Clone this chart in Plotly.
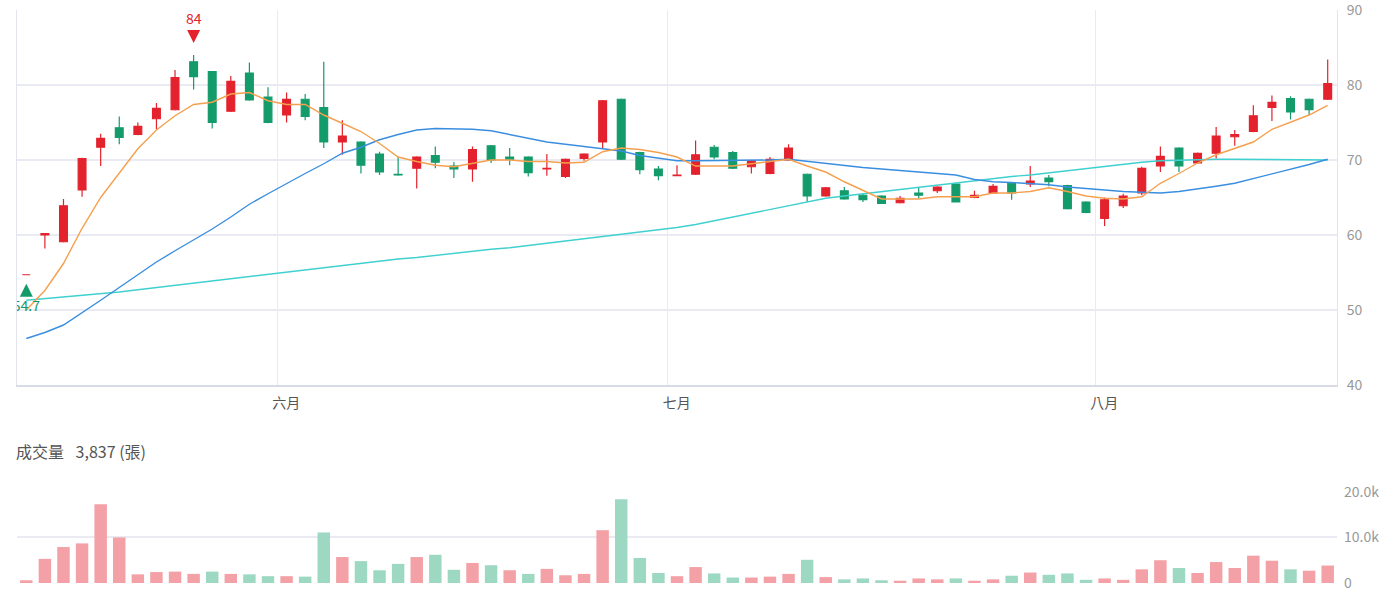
import plotly.graph_objects as go

# ---------------- data ----------------
opens = [54.7, 60.0, 59.1, 66.0, 71.7, 74.3, 73.4, 75.5, 76.7, 83.1,
         81.8, 76.5, 81.6, 78.4, 76.0, 78.1, 77.0, 72.4, 72.4, 70.8,
         68.1, 68.9, 70.6, 69.2, 68.8, 71.9, 70.4, 70.4, 68.8, 67.8,
         70.2, 72.4, 78.1, 71.0, 68.8, 67.9, 68.1, 71.7, 71.0, 69.1,
         68.2, 70.0, 68.1, 65.2, 65.9, 65.3, 65.2, 64.3, 65.6, 65.9,
         66.8, 65.0, 65.6, 66.9, 66.8, 67.6, 66.6, 64.4, 62.2, 63.9,
         65.6, 69.2, 71.6, 69.6, 70.9, 73.1, 73.8, 77.0, 78.2, 78.1,
         78.1]
highs = [54.7, 60.2, 64.8, 70.3, 73.5, 75.8, 75.0, 77.6, 82.0, 84.0,
         81.8, 81.2, 83.0, 79.7, 79.0, 78.8, 83.1, 75.3, 72.5, 71.1,
         70.4, 70.5, 71.8, 69.7, 71.8, 72.0, 71.6, 70.5, 70.8, 70.2,
         70.9, 78.0, 78.2, 71.1, 69.2, 69.3, 72.6, 72.0, 71.2, 70.0,
         70.4, 72.1, 68.2, 66.4, 66.4, 65.6, 65.3, 65.2, 66.4, 66.5,
         66.9, 65.9, 66.8, 67.0, 69.2, 68.0, 66.7, 64.5, 65.0, 65.5,
         69.1, 71.8, 71.7, 71.0, 74.4, 74.0, 77.3, 78.6, 78.5, 78.2,
         83.4]
lows = [54.7, 58.2, 59.0, 65.1, 69.2, 72.1, 73.3, 74.1, 76.6, 79.4,
        74.2, 76.4, 77.9, 74.9, 75.0, 75.3, 71.6, 70.7, 68.2, 68.0,
        67.9, 66.2, 68.9, 67.6, 67.1, 69.6, 69.3, 67.8, 67.9, 67.6,
        69.9, 71.6, 70.0, 68.1, 67.3, 67.9, 68.0, 70.1, 68.8, 68.2,
        68.1, 69.9, 64.4, 65.1, 64.7, 64.4, 64.2, 64.2, 64.9, 65.6,
        64.4, 64.9, 65.5, 64.7, 66.4, 66.5, 63.4, 62.9, 61.2, 63.6,
        65.3, 68.4, 68.4, 69.5, 70.2, 71.9, 73.7, 75.2, 75.4, 76.0,
        78.0]
closes = [54.7, 60.2, 63.9, 70.2, 72.9, 73.0, 74.5, 76.9, 81.0, 81.1,
          75.0, 80.5, 78.0, 75.0, 78.1, 75.8, 72.4, 73.2, 69.3, 68.4,
          68.0, 70.4, 69.7, 68.8, 71.4, 70.0, 70.1, 68.3, 68.9, 70.1,
          70.8, 77.9, 70.1, 68.7, 67.9, 68.0, 70.7, 70.4, 68.9, 69.9,
          70.1, 71.6, 65.2, 66.3, 64.8, 64.7, 64.2, 64.9, 65.3, 66.4,
          64.4, 65.3, 66.5, 65.6, 67.2, 67.1, 63.5, 63.0, 64.7, 65.2,
          68.9, 70.5, 69.2, 70.9, 73.2, 73.4, 75.9, 77.7, 76.4, 76.7,
          80.2]
volumes = [600, 5300, 7900, 8700, 17300, 10000, 1900, 2400, 2500, 2000,
           2500, 2000, 1900, 1500, 1500, 1400, 11100, 5700, 4800, 2800,
           4200, 5700, 6200, 2900, 4400, 3900, 2800, 2000, 3100, 1700,
           2000, 11600, 18400, 5500, 2200, 1500, 3500, 2100, 1200, 1200,
           1400, 2000, 5100, 1300, 800, 1000, 600, 500, 1000, 800,
           1000, 500, 800, 1600, 2300, 1800, 2100, 700, 1000, 700,
           3000, 5000, 3300, 2200, 4600, 3300, 6000, 4900, 3000, 2700,
           3837]
ma_short = [50.0, 52.6, 56.2, 60.9, 65.0, 68.2, 71.5, 74.0, 75.9, 77.4,
            77.7, 78.8, 79.0, 77.9, 77.4, 77.4, 76.0, 74.9, 73.8, 72.2,
            70.4, 69.8, 69.3, 69.1, 69.6, 70.0, 70.0, 69.8, 69.8, 69.6,
            69.7, 71.1, 71.6, 71.4, 71.0, 70.4, 69.2, 69.2, 69.2, 69.5,
            69.8, 70.1, 69.2, 68.4, 67.1, 66.0, 64.8, 64.8, 64.8, 65.1,
            65.1, 65.1, 65.6, 65.6, 65.8, 66.3, 65.8, 65.2, 64.9, 64.8,
            65.1, 66.9, 68.2, 69.6, 70.7, 71.6, 72.4, 74.1, 75.1, 76.0,
            77.3]
ma_mid = [46.2, 47.0, 48.0, 49.6, 51.3, 53.0, 54.7, 56.4, 57.9, 59.3,
          60.8, 62.4, 64.1, 65.5, 66.9, 68.2, 69.5, 70.9, 71.7, 72.7,
          73.4, 74.0, 74.2, 74.2, 74.1, 73.9, 73.4, 72.9, 72.4, 72.1,
          71.8, 71.6, 71.2, 70.6, 70.2, 69.9, 69.9, 69.9, 69.9, 70.0,
          70.0, 70.1, 69.8, 69.5, 69.2, 69.0, 68.8, 68.6, 68.4, 68.2,
          68.0, 67.4, 67.1, 67.0, 66.9, 66.7, 66.4, 66.2, 65.9, 65.8,
          65.7, 65.6, 65.8, 66.1, 66.5, 66.9, 67.5, 68.2, 68.8, 69.4,
          70.1]
ma_long = [51.3, 51.5, 51.7, 51.9, 52.1, 52.4, 52.7, 53.0, 53.3, 53.6,
           53.9, 54.2, 54.5, 54.8, 55.1, 55.4, 55.7, 56.0, 56.3, 56.5,
           56.8, 57.0, 57.3, 57.6, 57.8, 58.1, 58.3, 58.6, 58.8, 59.2,
           59.5, 59.8, 60.1, 60.4, 60.7, 61.0, 61.4, 61.9, 62.5, 63.0,
           63.5, 64.0, 64.5, 64.9, 65.2, 65.5, 65.8, 66.1, 66.4, 66.6,
           66.9, 67.2, 67.6, 67.8, 68.0, 68.3, 68.6, 68.9, 69.1, 69.4,
           69.7, 69.9, 70.0, 70.1, 70.1, 70.1, 70.1, 70.1, 70.1, 70.0,
           70.0]
month_labels = ["六月", "七月", "八月"]
month_start_idx = [14, 35, 58]
price_ticks = [40, 50, 60, 70, 80, 90]
volume_ticks = [0, 10000, 20000]
volume_tick_text = ["0", "10.0k", "20.0k"]

# ---------------- styling ----------------
RED = "#e3222d"
GREEN = "#149b6b"
RED_L = "#f3a1a6"
GREEN_L = "#9dd8c2"
GRID = "#e9eaf2"
FONT = "Noto Sans CJK TC"

n = len(closes)
xs = list(range(n))

vol_colors = []
for i in range(n):
    ref = opens[0] if i == 0 else closes[i - 1]
    vol_colors.append(RED_L if closes[i] >= ref else GREEN_L)

fig = go.Figure()

fig.add_trace(go.Candlestick(
    x=xs, open=opens, high=highs, low=lows, close=closes,
    increasing=dict(line=dict(color=RED, width=1.2), fillcolor=RED),
    decreasing=dict(line=dict(color=GREEN, width=1.2), fillcolor=GREEN),
    whiskerwidth=0, xaxis="x", yaxis="y", showlegend=False, hoverinfo="skip",
))

for vals, col in [(ma_long, "#3fd0cf"), (ma_mid, "#3a8ee0"), (ma_short, "#f5a04f")]:
    fig.add_trace(go.Scatter(
        x=xs, y=vals, mode="lines", line=dict(color=col, width=1.4),
        xaxis="x", yaxis="y", showlegend=False, hoverinfo="skip",
    ))

# max / min markers
hi_i = max(range(n), key=lambda i: highs[i])
lo_i = min(range(n), key=lambda i: lows[i])
fig.add_trace(go.Scatter(
    x=[hi_i], y=[highs[hi_i] + 1.6], mode="markers",
    marker=dict(symbol="arrow-down", size=13, color=RED),
    xaxis="x", yaxis="y", showlegend=False, hoverinfo="skip",
))
fig.add_trace(go.Scatter(
    x=[lo_i], y=[lows[lo_i] - 1.2], mode="markers",
    marker=dict(symbol="arrow-up", size=13, color=GREEN),
    xaxis="x", yaxis="y", showlegend=False, hoverinfo="skip",
))
fig.add_trace(go.Scatter(
    x=[lo_i], y=[lows[lo_i] - 4.3], mode="text",
    text=[f"{lows[lo_i]:g}"], textposition="middle center",
    textfont=dict(color=GREEN, size=14, family=FONT),
    xaxis="x", yaxis="y", showlegend=False, hoverinfo="skip", cliponaxis=True,
))

fig.add_trace(go.Bar(
    x=xs, y=volumes, marker=dict(color=vol_colors, line=dict(width=0)),
    xaxis="x2", yaxis="y2", showlegend=False, hoverinfo="skip",
))

fig.update_layout(
    width=1400, height=600,
    margin=dict(l=17, r=63, t=10, b=17),
    paper_bgcolor="white", plot_bgcolor="white",
    font=dict(family=FONT, size=14, color="#999"),
    boxgap=0.4, bargap=0.33,
    xaxis=dict(
        domain=[0, 1], anchor="y", range=[-0.5, n - 0.5], automargin=False,
        tickmode="array", tickvals=[m - 0.5 for m in month_start_idx],
        ticktext=month_labels, ticklabelshift=9, ticklabelstandoff=4,
        ticklabeloverflow="allow",
        tickfont=dict(color="#555", size=14, family=FONT),
        showgrid=True, gridcolor=GRID, gridwidth=1,
        showline=True, linecolor="#d8dae6", linewidth=1.5,
        zeroline=False, ticks="", rangeslider=dict(visible=False),
        fixedrange=True,
    ),
    yaxis=dict(
        domain=[0.3455, 1], anchor="x", range=[40, 90], automargin=False,
        tickvals=price_ticks, side="right", ticklabeloverflow="allow",
        tickfont=dict(color="#999", size=14, family=FONT),
        showgrid=True, gridcolor=GRID, gridwidth=1.5,
        showline=True, mirror=True, linecolor="#e2e4ee",
        zeroline=False, ticks="", ticklabelstandoff=6,
    ),
    xaxis2=dict(
        domain=[0, 1], anchor="y2", range=[-0.5, n - 0.5], automargin=False,
        showticklabels=False, showgrid=False, zeroline=False, showline=False,
        ticks="",
    ),
    yaxis2=dict(
        domain=[0, 0.1605], anchor="x2", range=[0, 20200], automargin=False,
        tickvals=volume_ticks, ticktext=volume_tick_text, side="right",
        ticklabeloverflow="allow",
        tickfont=dict(color="#999", size=14, family=FONT),
        showgrid=True, gridcolor=GRID, gridwidth=1.5,
        zeroline=False, showline=False, ticks="", ticklabelstandoff=6,
    ),
    annotations=[
        dict(
            xref="paper", yref="paper", x=0, xshift=-3, y=0.2304,
            xanchor="left", yanchor="middle", showarrow=False,
            text=f"成交量\u2002 {volumes[-1]:,} (張)",
            font=dict(color="#555", size=16, family=FONT),
        ),
        dict(
            xref="x", yref="y", x=hi_i, y=highs[hi_i], yshift=37,
            xanchor="center", yanchor="middle", showarrow=False,
            text=f"{highs[hi_i]:g}",
            font=dict(color=RED, size=14, family=FONT),
        ),
    ],
)

fig.write_html("out.html")
